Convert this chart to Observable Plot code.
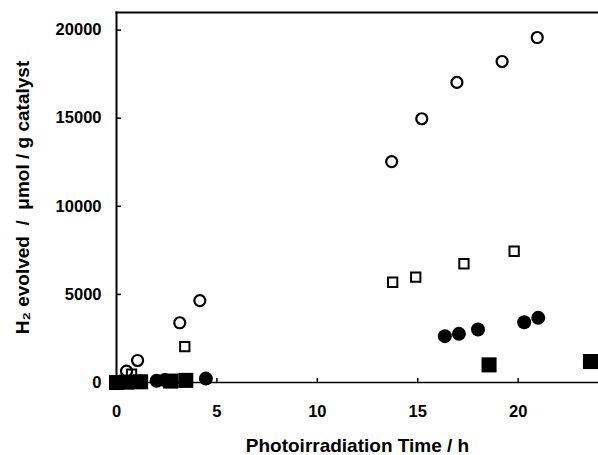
<!DOCTYPE html>
<html>
<head>
<meta charset="utf-8">
<script src="https://cdn.jsdelivr.net/npm/d3@7"></script>
<script src="https://cdn.jsdelivr.net/npm/@observablehq/plot@0.6"></script>
<style>
  html, body { margin: 0; padding: 0; background: white; }
</style>
</head>
<body>
<div id="chart"></div>
<script>
// Photoirradiation time (h) and H2 evolved (µmol / g catalyst), four series
const openCircleT = [0, 0.5, 1.05, 3.15, 4.15, 13.7, 15.2, 16.95, 19.2, 20.95];
const openCircleV = [0, 640, 1250, 3390, 4650, 12540, 14970, 17030, 18220, 19580];

const openSquareT = [0, 0.75, 3.4, 13.75, 14.9, 17.3, 19.8];
const openSquareV = [0, 480, 2040, 5690, 5980, 6740, 7450];

const filledCircleT = [0, 0.6, 1.2, 2.0, 2.4, 4.45, 16.35, 17.05, 18.0, 20.3, 21.0];
const filledCircleV = [0, 30, 60, 100, 140, 220, 2630, 2760, 3010, 3420, 3670];

const filledSquareT = [0, 0.5, 1.2, 2.7, 3.45, 18.55, 23.6];
const filledSquareV = [0, 20, 40, 80, 120, 1000, 1190];

const xTicks = [0, 5, 10, 15, 20];
const yTicks = [0, 5000, 10000, 15000, 20000];

const xLabel = "Photoirradiation Time / h";
const yLabel = "H\u2082 evolved \u00a0/\u00a0 \u03bcmol / g catalyst";

const toRows = (ts, vs) => ts.map((t, i) => ({t, v: vs[i]}));

const chart = Plot.plot({
  width: 598,
  height: 455,
  marginLeft: 116,
  marginRight: 0,
  marginTop: 12,
  marginBottom: 73,
  style: {
    fontFamily: "'Liberation Sans', Arial, sans-serif",
    fontWeight: "bold",
    fontSize: "16.5px",
    background: "white",
    color: "black"
  },
  x: {domain: [0, 24]},
  y: {domain: [0, 21000]},
  marks: [
    Plot.frame({anchor: "top", strokeWidth: 2}),
    Plot.frame({anchor: "left", strokeWidth: 2}),
    Plot.frame({anchor: "bottom", strokeWidth: 1.5}),
    Plot.axisX({ticks: xTicks, tickSize: -4, tickPadding: 27, tickFormat: d => String(d), label: null, strokeWidth: 1.5}),
    Plot.axisY({ticks: yTicks, tickSize: -5, tickPadding: 20, tickFormat: d => String(d), label: null, strokeWidth: 1.5}),
    Plot.dot(toRows(filledSquareT, filledSquareV), {x: "t", y: "v", symbol: "square", r: 8.5, fill: "black", stroke: "none"}),
    Plot.dot(toRows(filledCircleT, filledCircleV), {x: "t", y: "v", symbol: "circle", r: 7, fill: "black", stroke: "none"}),
    Plot.dot(toRows(openSquareT, openSquareV), {x: "t", y: "v", symbol: "square", r: 5.25, fill: "none", stroke: "black", strokeWidth: 2}),
    Plot.dot(toRows(openCircleT, openCircleV), {x: "t", y: "v", symbol: "circle", r: 5.5, fill: "none", stroke: "black", strokeWidth: 2.2}),
    Plot.text([xLabel], {frameAnchor: "bottom", text: d => d, dy: 63, fontSize: 19, textAnchor: "middle", lineAnchor: "middle"}),
    Plot.text([yLabel], {frameAnchor: "left", text: d => d, dx: -94, rotate: -90, fontSize: 19, textAnchor: "middle", lineAnchor: "middle"})
  ]
});

document.getElementById("chart").appendChild(chart);
</script>
</body>
</html>
